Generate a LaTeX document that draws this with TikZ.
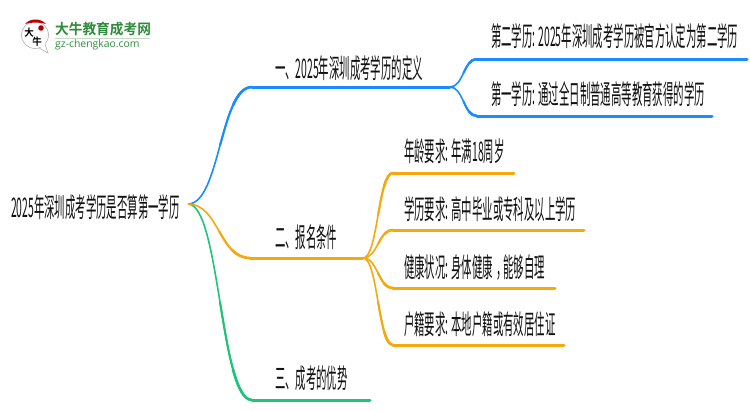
\documentclass[tikz,border=0pt]{standalone}
\usepackage{fontspec}
\usetikzlibrary{calc}
\setmainfont{Noto Sans CJK SC}
\newfontfamily\cjk[FakeStretch=0.385]{Noto Sans CJK SC}
\newfontfamily\cjkb[FakeStretch=0.95]{Noto Sans CJK SC Bold}
\newfontfamily\latn{Open Sans}
\definecolor{cblue}{HTML}{1A8CFF}
\definecolor{corange}{HTML}{F5A90F}
\definecolor{cgreen}{HTML}{1EC477}
\definecolor{lgreen}{HTML}{2E8B3A}
\definecolor{ink}{HTML}{111111}
\tikzset{
 lbl/.style={inner sep=0pt,outer sep=0pt,anchor=base west,font=\cjk\fontsize{27}{30}\selectfont,text=ink},
}
% growing branch: colour, start, knee, end; the stroke widens towards the knee
\newcommand\branch[4]{%
 \draw[#1,line width=1.6pt] let \p1=(#2),\p2=(#3),\n1={0.5*(\x1+\x2)} in
  (\x1,\y1) .. controls (\n1,\y1) and (\n1,\y2) .. (\x2,\y2);
 \draw[#1,line width=2.1pt] let \p1=(#2),\p2=(#3),\n1={0.5*(\x1+\x2)},\n2={0.375*\x1+0.625*\x2},\n3={0.25*\x1+0.75*\x2},\n4={0.5*(\y1+\y2)},\n5={0.25*\y1+0.75*\y2} in
  (\n1,\n4) .. controls (\n2,\n5) and (\n3,\y2) .. (\x2,\y2);
 \draw[#1,line width=2.6pt] let \p1=(#2),\p2=(#3),\n1={0.296875*\x1+0.703125*\x2},\n2={0.15625*\y1+0.84375*\y2},\n3={0.21875*\x1+0.78125*\x2},\n4={0.0625*\y1+0.9375*\y2},\n5={0.125*\x1+0.875*\x2} in
  (\n1,\n2) .. controls (\n3,\n4) and (\n5,\y2) .. (\x2,\y2);
 \draw[#1,line width=3pt,line cap=round] (#3) -- (#4);}
\begin{document}
\begin{tikzpicture}[x=1pt,y=-1pt]
\useasboundingbox (0,0) rectangle (750,410);
% logo
\fill[white,draw=black!30,line width=.6pt] (35,35) circle (13.5);
\fill[white] (39,46) -- (48,53) -- (45,42) -- cycle;
\draw[black!30,line width=.6pt] (39,48) -- (48,53) -- (45,44);
\fill[red!75!black] (25,24) .. controls (30,18) and (41,18) .. (46,24) .. controls (40,22) and (31,22) .. (25,24) -- cycle;
\fill[red!70!black] (41,28) circle (2.8);
\node[inner sep=0pt,font=\cjkb\fontsize{10}{10}\selectfont] (logoa) at (29,33) {大};
\node[inner sep=0pt,font=\cjkb\fontsize{10}{10}\selectfont] (logob) at (37,42) {牛};
\node[inner sep=0pt,anchor=west,font=\cjkb\fontsize{14.4}{15}\selectfont,text=lgreen] (logot) at (55,29) {大牛教育成考网};
\node[inner sep=0pt,anchor=west,font=\latn\fontsize{10.4}{11}\selectfont,text=lgreen] (logou) at (55,45) {gz-chengkao.com};
\draw[lgreen!30,line width=.6pt] (55,38) -- (150,38);
% nodes
\node[lbl] (root) at (11,217) {2025年深圳成考学历是否算第一学历};
\coordinate (hub) at (188,204);
\node[lbl] (a) at (275,78) {一、2025年深圳成考学历的定义};
\node[lbl] (b) at (275,247) {二、报名条件};
\node[lbl] (c) at (275,388) {三、成考的优势};
\node[lbl] (a1) at (491,46) {第二学历: 2025年深圳成考学历被官方认定为第二学历};
\node[lbl] (a2) at (491,104) {第一学历: 通过全日制普通高等教育获得的学历};
\node[lbl] (b1) at (404,161) {年龄要求: 年满18周岁};
\node[lbl] (b2) at (404,219) {学历要求: 高中毕业或专科及以上学历};
\node[lbl] (b3) at (404,277) {健康状况: 身体健康\hspace{3pt}，\hspace{-3pt}能够自理};
\node[lbl] (b4) at (404,334) {户籍要求: 本地户籍或有效居住证};
% line knees and ends
\coordinate (ak) at (252,87);   \coordinate (ae) at (450,87);
\coordinate (bk) at (250,258);  \coordinate (be) at (363,258);
\coordinate (ck) at (252,400);  \coordinate (ce) at (370,400);
\coordinate (a1k) at (477,59);  \coordinate (a1e) at (747,59);
\coordinate (a2k) at (477,116); \coordinate (a2e) at (712,116);
\coordinate (b1k) at (393,173); \coordinate (b1e) at (514,173);
\coordinate (b2k) at (393,230); \coordinate (b2e) at (584,230);
\coordinate (b3k) at (393,288); \coordinate (b3e) at (555,288);
\coordinate (b4k) at (393,345); \coordinate (b4e) at (564,345);
% connectors
\branch{cblue}{hub}{ak}{ae}
\branch{cblue}{ae}{a1k}{a1e}
\branch{cblue}{ae}{a2k}{a2e}
\branch{cgreen}{hub}{ck}{ce}
\branch{corange}{hub}{bk}{be}
\branch{corange}{be}{b1k}{b1e}
\branch{corange}{be}{b2k}{b2e}
\branch{corange}{be}{b3k}{b3e}
\branch{corange}{be}{b4k}{b4e}
\end{tikzpicture}
\end{document}
